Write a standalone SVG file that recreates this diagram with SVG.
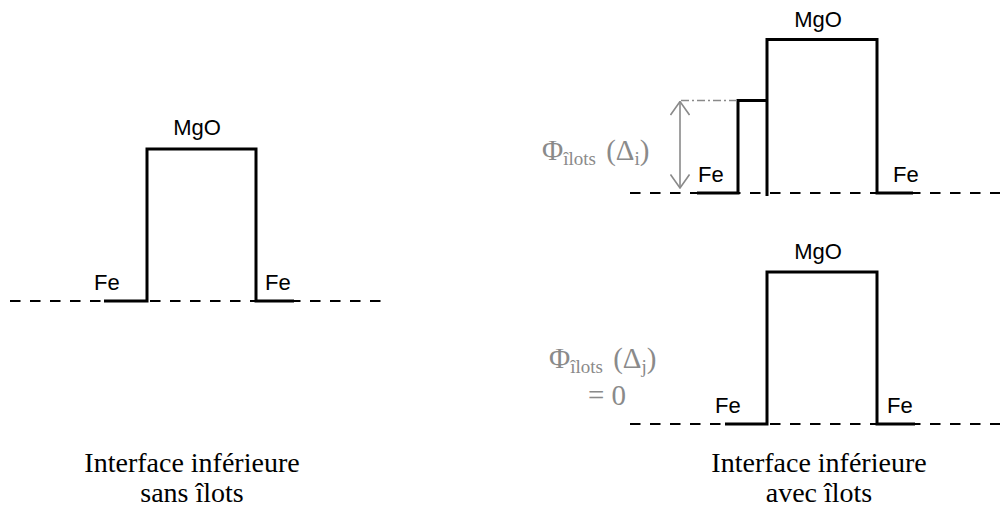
<svg xmlns="http://www.w3.org/2000/svg" width="1000" height="508" viewBox="0 0 1000 508">
<style>
.dash{stroke:#000;stroke-width:2.2;stroke-dasharray:10.5 9.5;fill:none}
.bar{stroke:#000;stroke-width:3;fill:none;stroke-linejoin:miter}
.lbl{font-family:Arial,"Liberation Sans",sans-serif;font-size:22px;fill:#000}
.cap{font-family:"Times New Roman","Liberation Serif",serif;font-size:28px;fill:#000;text-anchor:middle}
.phi{font-family:"Times New Roman","Liberation Serif",serif;font-size:29px;fill:#8a8a8a}
.sub{font-size:19px}
.gl{stroke:#8a8a8a;stroke-width:1.6;fill:none}
</style>
<defs>
<marker id="ah" viewBox="0 0 16 20" refX="15" refY="10" markerWidth="16" markerHeight="20" markerUnits="userSpaceOnUse" orient="auto-start-reverse">
<path d="M1.5,0.5 L15,10 L1.5,19.5" fill="none" stroke="#8a8a8a" stroke-width="1.6"/>
</marker>
</defs>
<g id="left-barrier">
<line class="dash" x1="10" y1="301" x2="387" y2="301"/>
<path class="bar" d="M104,301 H147 V149 H256 V301 H294"/>
<text class="lbl" x="197" y="135" text-anchor="middle">MgO</text>
<text class="lbl" x="94" y="290">Fe</text>
<text class="lbl" x="265" y="290">Fe</text>
</g>
<g id="upper-right-barrier">
<line class="dash" x1="630" y1="193" x2="1000" y2="193"/>
<path class="bar" d="M697,193 H738 V100.5 H767"/>
<path class="bar" d="M767,196 V39.5 H877 V193 H913"/>
<text class="lbl" x="818" y="27" text-anchor="middle">MgO</text>
<text class="lbl" x="698" y="182">Fe</text>
<text class="lbl" x="893" y="182">Fe</text>
</g>
<g id="lower-right-barrier">
<line class="dash" x1="630" y1="424" x2="1000" y2="424"/>
<path class="bar" d="M725,424 H767 V272 H877 V424 H915"/>
<text class="lbl" x="818" y="259" text-anchor="middle">MgO</text>
<text class="lbl" x="715" y="413">Fe</text>
<text class="lbl" x="887" y="413">Fe</text>
</g>
<g id="connectors">
<line class="gl" x1="681" y1="100.5" x2="737" y2="100.5" stroke-width="1.2" stroke-dasharray="8 3 2 3"/>
<line class="gl" x1="680" y1="101.5" x2="680" y2="188" marker-start="url(#ah)" marker-end="url(#ah)"/>
</g>
<g id="phi-i">
<text class="phi" x="542" y="160">Φ<tspan class="sub" dy="5">îlots</tspan><tspan dy="-5" dx="3"> (Δ</tspan><tspan class="sub" dy="5">i</tspan><tspan dy="-5">)</tspan></text>
</g>
<g id="phi-j">
<text class="phi" x="549" y="368">Φ<tspan class="sub" dy="5">îlots</tspan><tspan dy="-5" dx="3"> (Δ</tspan><tspan class="sub" dy="5">j</tspan><tspan dy="-5">)</tspan></text>
<text class="phi" x="607" y="405" text-anchor="middle">= 0</text>
</g>
<g id="caption-left">
<text class="cap" x="192" y="472">Interface inférieure</text>
<text class="cap" x="192" y="502">sans îlots</text>
</g>
<g id="caption-right">
<text class="cap" x="819" y="472">Interface inférieure</text>
<text class="cap" x="819" y="502">avec îlots</text>
</g>
</svg>
